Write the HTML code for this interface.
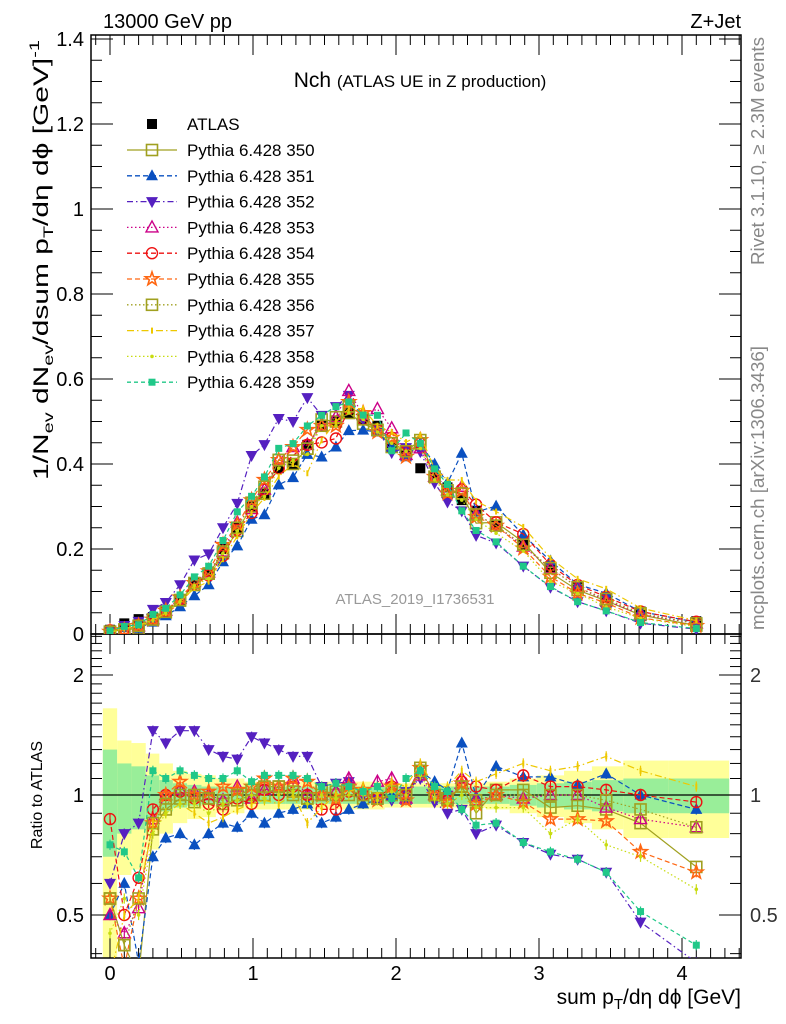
<!DOCTYPE html>
<html><head><meta charset="utf-8"><style>
body{margin:0;background:#fff;}
svg{display:block;font-family:"Liberation Sans",Arial,sans-serif;}
</style></head><body>
<svg id="chart" width="786" height="1024" viewBox="0 0 786 1024" xmlns="http://www.w3.org/2000/svg">
<defs>
<clipPath id="clipMain"><rect x="91" y="35" width="650" height="599"/></clipPath>
<clipPath id="clipRatio"><rect x="91" y="634" width="650" height="324"/></clipPath>
</defs>
<text x="103" y="28" font-size="20">13000 GeV pp</text>
<text x="741" y="28" font-size="20" text-anchor="end">Z+Jet</text>
<text x="420" y="87" text-anchor="middle" font-size="21">Nch <tspan font-size="17">(ATLAS UE in Z production)</tspan></text>
<text x="415" y="604" text-anchor="middle" font-size="15" fill="#999">ATLAS_2019_I1736531</text>
<text transform="translate(764,265) rotate(-90)" font-size="18" textLength="228" lengthAdjust="spacingAndGlyphs" fill="#888">Rivet 3.1.10, ≥ 2.3M events</text>
<text transform="translate(764,630) rotate(-90)" font-size="18" textLength="284" lengthAdjust="spacingAndGlyphs" fill="#888">mcplots.cern.ch [arXiv:1306.3436]</text>
<text transform="translate(48,260) rotate(-90)" text-anchor="middle" font-size="21" textLength="440" lengthAdjust="spacingAndGlyphs">1/N<tspan font-size="14" dy="5">ev</tspan><tspan dy="-5"> dN</tspan><tspan font-size="14" dy="5">ev</tspan><tspan dy="-5">/dsum p</tspan><tspan font-size="14" dy="5">T</tspan><tspan dy="-5">/dη dϕ  [GeV]</tspan><tspan font-size="14" dy="-9">-1</tspan></text>
<text transform="translate(42,795) rotate(-90)" text-anchor="middle" font-size="16">Ratio to ATLAS</text>
<text x="741" y="1004" text-anchor="end" font-size="21">sum p<tspan font-size="15" dy="5">T</tspan><tspan dy="-5">/dη dϕ [GeV]</tspan></text>
<g id="bands"></g>
<g id="axes"></g>
<g id="series"></g>
<g id="legend"></g>
</svg>
<script>
const xs=[0,0.1,0.2,0.3,0.39,0.49,0.59,0.69,0.79,0.89,0.99,1.08,1.18,1.28,1.38,1.48,1.58,1.67,1.77,1.87,1.97,2.07,2.17,2.27,2.36,2.46,2.56,2.70,2.89,3.08,3.27,3.47,3.71,4.10];
const atlas=[0.01,0.025,0.035,0.04,0.055,0.08,0.12,0.145,0.2,0.25,0.30,0.33,0.39,0.40,0.445,0.49,0.50,0.52,0.505,0.49,0.44,0.43,0.39,0.37,0.345,0.315,0.29,0.255,0.21,0.155,0.11,0.085,0.053,0.03];
const errOuter=[0.65,0.37,0.35,0.27,0.2,0.15,0.13,0.12,0.1,0.1,0.08,0.08,0.08,0.08,0.08,0.08,0.08,0.08,0.08,0.08,0.07,0.07,0.07,0.07,0.07,0.07,0.07,0.08,0.1,0.12,0.15,0.18,0.22,0.22];
const errInner=[0.3,0.2,0.18,0.12,0.09,0.07,0.06,0.05,0.05,0.05,0.05,0.05,0.05,0.05,0.05,0.05,0.05,0.05,0.05,0.05,0.05,0.05,0.05,0.05,0.05,0.05,0.05,0.05,0.06,0.07,0.08,0.09,0.1,0.1];
const r350=[0.55,0.42,0.35,0.82,0.92,0.98,0.96,0.98,0.95,0.97,1.0,1.0,1.05,1.0,0.98,1.03,1.0,1.0,0.98,0.98,1.0,1.0,1.17,1.0,0.97,1.05,0.9,1.03,1.03,0.93,0.94,0.92,0.85,0.66];
const r351=[0.5,0.6,0.38,0.7,0.78,0.8,0.75,0.8,0.85,0.83,0.9,0.85,0.9,0.92,0.95,0.85,0.88,0.92,0.95,0.97,1.0,0.97,1.15,1.08,1.03,1.35,0.99,1.18,1.11,1.11,1.06,1.13,1.0,0.92];
const r352=[0.6,0.8,0.85,1.45,1.35,1.45,1.45,1.3,1.25,1.23,1.4,1.35,1.3,1.25,1.25,1.05,1.07,1.08,1.0,0.98,0.97,1.02,1.1,0.96,0.9,0.92,0.8,0.84,0.76,0.71,0.69,0.64,0.48,0.38];
const r353=[0.5,0.45,0.52,0.87,1.0,1.03,1.02,1.0,0.97,1.05,0.98,1.03,1.05,1.1,1.0,1.0,1.02,1.1,1.02,1.08,1.1,0.98,1.12,1.0,0.98,1.1,0.97,1.0,0.98,1.0,1.0,0.93,0.87,0.83];
const r354=[0.87,0.5,0.62,0.92,1.0,1.02,0.98,0.95,0.92,0.98,0.95,1.03,1.0,1.05,1.0,0.92,0.92,1.02,1.0,0.98,1.05,1.0,1.15,1.0,0.97,1.08,1.05,1.03,1.12,1.05,1.05,1.03,1.0,0.96];
const r355=[0.55,0.37,0.55,0.85,1.0,1.08,1.0,1.02,1.05,1.03,1.05,1.1,1.05,1.1,1.08,1.0,0.98,1.05,1.03,0.97,1.05,0.97,1.17,1.0,0.96,1.07,0.95,1.0,0.96,0.87,0.87,0.86,0.72,0.64];
const r356=[0.55,0.42,0.55,0.85,0.95,1.0,1.0,0.98,0.97,1.0,1.03,1.05,1.05,1.02,0.98,1.0,1.02,1.03,1.0,0.98,1.02,1.0,1.15,1.0,0.98,1.05,0.97,1.0,1.0,1.0,1.0,0.97,0.92,0.83];
const r357=[0.35,0.5,0.55,0.85,0.9,0.95,0.9,0.85,0.88,0.92,0.95,0.97,0.95,1.0,0.85,0.93,1.0,1.02,1.05,1.0,1.08,1.05,1.2,1.05,1.05,1.15,1.08,1.13,1.2,1.15,1.18,1.25,1.15,1.05];
const r358=[0.45,0.55,0.5,0.8,0.9,0.95,0.95,0.9,0.95,0.97,1.0,0.98,1.0,1.02,0.95,1.0,0.98,1.0,1.0,0.97,1.02,1.0,1.12,0.98,0.95,1.0,0.93,0.93,0.93,0.8,0.87,0.75,0.7,0.58];
const r359=[0.75,0.72,0.62,1.15,1.1,1.15,1.12,1.1,1.1,1.15,1.08,1.12,1.12,1.12,1.1,1.05,1.07,1.05,1.02,1.05,0.98,1.1,1.15,1.05,1.02,0.92,0.84,0.85,0.76,0.72,0.69,0.64,0.51,0.42];
const seriesNames=["350","351","352","353","354","355","356","357","358","359"];
const yTicksMain=[0,0.2,0.4,0.6,0.8,1,1.2,1.4];
const yTickLabelsMain=["0","0.2","0.4","0.6","0.8","1","1.2","1.4"];
const xTicks=[0,1,2,3,4];
const ratioTickLabels=["0.5","1","2"];
const ratioTicks=[0.5,1,2];

const styles=[
 {c:"#a0a020",d:"",m:"osq"},
 {c:"#0a50c0",d:"5,3",m:"tri"},
 {c:"#5520c0",d:"6,3,1.5,3",m:"dtri"},
 {c:"#cc0088",d:"1.5,2.5",m:"otri"},
 {c:"#ee1111",d:"5,3",m:"ocirc"},
 {c:"#ff6611",d:"5,3",m:"star"},
 {c:"#a0a020",d:"1.5,2.5",m:"osq"},
 {c:"#eec800",d:"7,3,1.5,3",m:"small"},
 {c:"#c8dc10",d:"1.5,2.5",m:"dot"},
 {c:"#20c888",d:"4,3",m:"fsq"}];
const ratios=[r350,r351,r352,r353,r354,r355,r356,r357,r358,r359];

const NS="http://www.w3.org/2000/svg";
function X(v){return 110+143*v;}
function YM(v){return 634-425*v;}
function YR(v){return 795-120*Math.log2(v);}
function mk(tag,attrs,parent){const e=document.createElementNS(NS,tag);for(const k in attrs)e.setAttribute(k,attrs[k]);parent.appendChild(e);return e;}

const axes=document.getElementById('axes');
const bands=document.getElementById('bands');
const ser=document.getElementById('series');
const leg=document.getElementById('legend');

const bg=mk('g',{'clip-path':'url(#clipRatio)'},bands);
for(let i=0;i<xs.length;i++){
  const l=i===0?xs[0]-0.05:(xs[i-1]+xs[i])/2;
  const r=i===xs.length-1?4.33:(xs[i]+xs[i+1])/2;
  const yo=mk('rect',{x:X(l),y:YR(1+errOuter[i]),width:X(r)-X(l),height:YR(Math.max(1-errOuter[i],0.3))-YR(1+errOuter[i]),fill:"#ffff99"},bg);
  
  
  const gi=mk('rect',{x:X(l),y:YR(1+errInner[i]),width:X(r)-X(l),height:YR(1-errInner[i])-YR(1+errInner[i]),fill:"#99ee99"},bg);
  
  
}
const one=mk('line',{x1:91,x2:741,y1:YR(1),y2:YR(1),stroke:"#000","stroke-width":1.3},bands);



const f1=mk('rect',{x:91,y:35,width:650,height:599,fill:"none",stroke:"#000","stroke-width":1.5},axes);


const f2=mk('rect',{x:91,y:634,width:650,height:324,fill:"none",stroke:"#000","stroke-width":1.5},axes);


for(let t=-0.1;t<=4.41;t+=0.1){
  const tv=Math.round(t*10)/10;const major=Math.abs(tv-Math.round(tv))<1e-6;const L=major?20:10;
  [[35,1],[634,-1],[634,1],[958,-1]].forEach(([y,s])=>{
    const tl=mk('line',{x1:X(tv),x2:X(tv),y1:y,y2:y+s*L,stroke:"#000","stroke-width":1},axes);
    
    
  });
}
xTicks.forEach(v=>{const t=mk('text',{x:X(v),y:980,'text-anchor':'middle','font-size':20},axes);t.textContent=String(v);

});
for(let v=0;v<=1.41;v+=0.05){
  const vv=Math.round(v*100)/100;const major=Math.abs(vv*5-Math.round(vv*5))<1e-6;const L=major?22:11;
  [[91,1],[741,-1]].forEach(([x,s])=>{const tl=mk('line',{x1:x,x2:x+s*L,y1:YM(vv),y2:YM(vv),stroke:"#000","stroke-width":1},axes);
  
  });
}
yTicksMain.forEach((v,i)=>{const t=mk('text',{x:84,y:YM(v)+7,'text-anchor':'end','font-size':20},axes);t.textContent=yTickLabelsMain[i];

});
for(let v=0.4;v<=2.55;v+=0.1){
  const vv=Math.round(v*10)/10;if(YR(vv)<634||YR(vv)>958)continue;
  const major=(vv===0.5||vv===1||vv===2);const L=major?22:11;
  [[91,1],[741,-1]].forEach(([x,s])=>{const tl=mk('line',{x1:x,x2:x+s*L,y1:YR(vv),y2:YR(vv),stroke:"#000","stroke-width":1},axes);
  
  });
}
ratioTicks.forEach((v,i)=>{
  const t=mk('text',{x:84,y:YR(v)+7,'text-anchor':'end','font-size':20},axes);t.textContent=ratioTickLabels[i];
  
  
  const t2=mk('text',{x:750,y:YR(v)+7,'font-size':20,fill:"#333"},axes);t2.textContent=ratioTickLabels[i];
  
  
});

function marker(g,m,c,x,y,s){
  s=s||1;let e;
  if(m==="osq"){e=mk('rect',{x:x-5.5*s,y:y-5.5*s,width:11*s,height:11*s,fill:"none",stroke:c,"stroke-width":1.6},g);}
  else if(m==="fsq"){e=mk('rect',{x:x-3.5,y:y-3.5,width:7,height:7,fill:c},g);}
  else if(m==="bsq"){e=mk('rect',{x:x-5,y:y-5,width:10,height:10,fill:"#000"},g);}
  else if(m==="tri"){e=mk('polygon',{points:`${x},${y-6.5} ${x-6},${y+4.5} ${x+6},${y+4.5}`,fill:c},g);}
  else if(m==="dtri"){e=mk('polygon',{points:`${x},${y+6.5} ${x-6},${y-4.5} ${x+6},${y-4.5}`,fill:c},g);}
  else if(m==="otri"){e=mk('polygon',{points:`${x},${y-6.5} ${x-6},${y+4.5} ${x+6},${y+4.5}`,fill:"none",stroke:c,"stroke-width":1.4},g);}
  else if(m==="ocirc"){e=mk('circle',{cx:x,cy:y,r:5.5,fill:"none",stroke:c,"stroke-width":1.4},g);}
  else if(m==="star"){let p=[];for(let i=0;i<10;i++){const a=-Math.PI/2+i*Math.PI/5;const rr=i%2?2.8:7;p.push((x+rr*Math.cos(a)).toFixed(1)+","+(y+rr*Math.sin(a)).toFixed(1));}
    e=mk('polygon',{points:p.join(" "),fill:"none",stroke:c,"stroke-width":1.6},g);}
  else if(m==="small"){e=mk('line',{x1:x,x2:x,y1:y-3,y2:y+3,stroke:c,"stroke-width":2},g);}
  else {e=mk('circle',{cx:x,cy:y,r:1.8,fill:c},g);}
  return e;
}

const gm=mk('g',{'clip-path':'url(#clipMain)'},ser);
const gr=mk('g',{'clip-path':'url(#clipRatio)'},ser);
xs.forEach((x,i)=>{const e=marker(gm,"bsq","#000",X(x),YM(atlas[i]));

});
ratios.forEach((r,si)=>{
  const st=styles[si];
  const pm=xs.map((x,i)=>X(x).toFixed(1)+","+YM(atlas[i]*r[i]).toFixed(1)).join(" ");
  const lm=mk('polyline',{points:pm,fill:"none",stroke:st.c,"stroke-width":1.2,"stroke-dasharray":st.d},gm);
  
  
  const pr=xs.map((x,i)=>X(x).toFixed(1)+","+YR(r[i]).toFixed(1)).join(" ");
  const lr=mk('polyline',{points:pr,fill:"none",stroke:st.c,"stroke-width":1.2,"stroke-dasharray":st.d},gr);
  
  
  xs.forEach((x,i)=>{
    const eb=mk('line',{x1:X(x),x2:X(x),y1:YR(r[i]*1.03),y2:YR(r[i]/1.03),stroke:st.c,"stroke-width":1.2},gr);
    
    
    const a=marker(gm,st.m,st.c,X(x),YM(atlas[i]*r[i]));
    
    
    const b=marker(gr,st.m,st.c,X(x),YR(r[i]));
    
    
  });
});

const la=marker(leg,"bsq","#000",152,124);


const lt=mk('text',{x:187,y:130,'font-size':17},leg);lt.textContent="ATLAS";


seriesNames.forEach((n,i)=>{
  const y=150+25.8*i;const st=styles[i];
  const ln=mk('line',{x1:127,x2:177,y1:y,y2:y,stroke:st.c,"stroke-width":1.3,"stroke-dasharray":st.d},leg);
  
  
  const m=marker(leg,st.m,st.c,152,y);
  
  
  const t=mk('text',{x:187,y:y+6,'font-size':17},leg);t.textContent="Pythia 6.428 "+n;
  
  
});
</script>
</body></html>
